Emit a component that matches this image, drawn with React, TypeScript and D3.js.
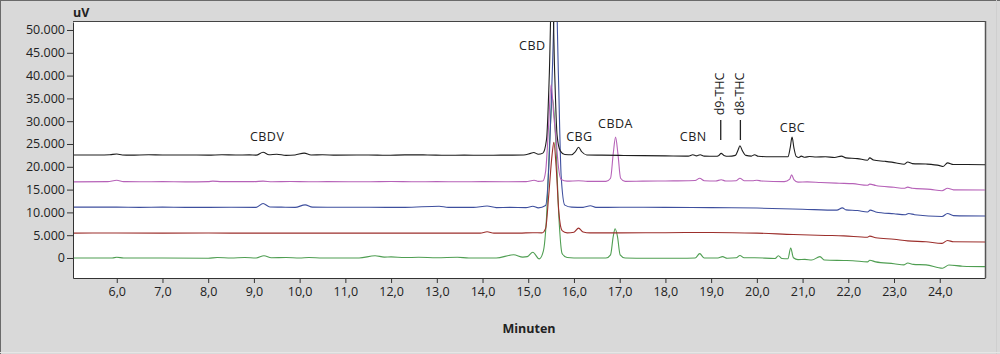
import { useEffect, useRef } from "react";
import { scaleLinear, line, curveMonotoneX, axisLeft, axisBottom, select, formatLocale } from "d3";

// retention time (min) / signal (uV)
const blackTrace: [number, number][] = [
  [5.05, 22600], [5.6, 22580], [5.85, 22650], [6.0, 22800], [6.12, 22600], [6.3, 22550], [6.7, 22650],
  [7.0, 22580], [7.5, 22600], [8.0, 22550], [8.3, 22650], [8.6, 22580], [8.9, 22620], [9.05, 22550],
  [9.2, 23200], [9.33, 22650], [9.5, 22750], [9.7, 22500], [9.9, 22600], [10.1, 23000], [10.25, 22600],
  [10.5, 22650], [10.8, 22550], [11.5, 22600], [11.9, 22520], [12.3, 22620], [12.8, 22600], [13.2, 22520],
  [13.6, 22560], [14.0, 22520], [14.4, 22560], [14.9, 22580], [15.05, 22950], [15.12, 23150], [15.22, 22750],
  [15.32, 23000], [15.4, 26000], [15.46, 40000], [15.52, 62000], [15.58, 40000], [15.63, 27000], [15.7, 23500],
  [15.8, 22700], [15.95, 22650], [16.03, 23300], [16.1, 24300], [16.17, 23300], [16.28, 22600], [16.6, 22550],
  [17.0, 22500], [17.5, 22450], [18.0, 22400], [18.5, 22350], [18.6, 22650], [18.68, 22400], [18.76, 22650],
  [18.85, 22350], [19.1, 22300], [19.17, 22500], [19.22, 22950], [19.28, 22500], [19.38, 22300], [19.53, 22500],
  [19.59, 23700], [19.63, 24600], [19.68, 23600], [19.76, 22500], [19.88, 22350], [19.95, 22650], [20.03, 22300],
  [20.3, 22200], [20.68, 22200], [20.73, 24200], [20.77, 26500], [20.81, 24200], [20.86, 22300], [20.92, 22050],
  [20.97, 22350], [21.05, 22100], [21.15, 22250], [21.3, 22150], [21.5, 22200], [21.7, 22050], [21.85, 22350],
  [21.95, 21950], [22.2, 21800], [22.42, 21450], [22.47, 21950], [22.55, 21500], [22.8, 21200], [23.05, 20850],
  [23.22, 20550], [23.3, 21050], [23.4, 20700], [23.7, 20600], [24.0, 20250], [24.07, 20050], [24.17, 20850],
  [24.3, 20500], [24.6, 20500], [25.0, 20450],
];

const magentaTrace: [number, number][] = [
  [5.05, 16700], [5.8, 16750], [6.0, 17050], [6.15, 16750], [6.5, 16720], [7.0, 16750], [7.5, 16700],
  [8.0, 16750], [8.1, 16850], [8.3, 16750], [9.0, 16750], [9.2, 16850], [9.4, 16720], [9.8, 16780],
  [10.2, 16720], [10.6, 16750], [11.5, 16720], [12.0, 16780], [12.5, 16720], [13.0, 16750], [13.5, 16720],
  [14.0, 16750], [14.5, 16720], [14.95, 16750], [15.13, 17050], [15.22, 16800], [15.32, 16900], [15.38, 19000],
  [15.44, 28000], [15.5, 38000], [15.56, 31000], [15.61, 26000], [15.66, 20000], [15.72, 17200], [15.85, 16850],
  [16.1, 16950], [16.3, 16800], [16.7, 16800], [16.8, 17500], [16.86, 23000], [16.91, 26500], [16.96, 23000],
  [17.02, 17500], [17.12, 16800], [17.5, 16850], [18.0, 16900], [18.5, 16950], [18.65, 17000], [18.75, 17500],
  [18.85, 16950], [19.1, 16900], [19.22, 17150], [19.32, 16900], [19.55, 16950], [19.63, 17500], [19.72, 16950],
  [19.9, 16950], [20.0, 17050], [20.1, 16900], [20.6, 16750], [20.72, 17300], [20.76, 18250], [20.81, 17200],
  [20.9, 16650], [21.1, 16700], [21.4, 16550], [21.8, 16400], [22.1, 16300], [22.42, 15950], [22.47, 16200],
  [22.6, 15900], [23.0, 15500], [23.22, 15300], [23.3, 15550], [23.4, 15300], [23.8, 15050], [24.05, 14750],
  [24.17, 15300], [24.3, 14950], [25.0, 14900],
];

const blueTrace: [number, number][] = [
  [5.05, 11150], [6.0, 11150], [6.5, 11100], [7.0, 11150], [7.5, 11100], [8.5, 11120], [9.05, 11100],
  [9.2, 11950], [9.35, 11200], [9.6, 11150], [9.9, 11100], [10.12, 11650], [10.28, 11150], [10.6, 11120],
  [11.5, 11120], [12.3, 11100], [13.05, 11350], [13.25, 11100], [13.8, 11100], [14.1, 11400], [14.3, 11050],
  [14.6, 11100], [14.95, 11050], [15.1, 11350], [15.22, 11000], [15.38, 11500], [15.46, 22000], [15.53, 42000],
  [15.6, 62000], [15.66, 40000], [15.72, 18000], [15.8, 11600], [15.95, 11150], [16.2, 11100], [16.36, 11450],
  [16.48, 11100], [17.0, 11120], [18.0, 11100], [19.0, 11050], [20.0, 10950], [21.0, 10700], [21.75, 10500],
  [21.87, 11000], [21.95, 10550], [22.2, 10400], [22.42, 10100], [22.48, 10500], [22.6, 10100], [23.0, 9700],
  [23.25, 9500], [23.32, 9750], [23.45, 9500], [24.05, 9100], [24.17, 9750], [24.3, 9300], [25.0, 9200],
];

const redTrace: [number, number][] = [
  [5.05, 5450], [6.0, 5480], [7.0, 5450], [8.0, 5470], [9.0, 5450], [10.0, 5450], [11.0, 5450],
  [12.0, 5460], [13.0, 5450], [13.95, 5450], [14.1, 5750], [14.25, 5450], [14.8, 5450], [15.1, 5550],
  [15.3, 5500], [15.38, 6500], [15.45, 14000], [15.52, 22500], [15.56, 25400], [15.61, 20000], [15.67, 10000],
  [15.74, 6000], [15.85, 5500], [16.0, 5650], [16.1, 6550], [16.2, 5700], [16.35, 5500], [17.0, 5500],
  [18.0, 5550], [19.0, 5600], [20.0, 5450], [20.8, 5150], [21.5, 4950], [21.9, 4850], [22.42, 4550],
  [22.47, 4800], [22.6, 4450], [23.0, 4100], [23.3, 3750], [23.7, 3550], [24.05, 3200], [24.17, 3850],
  [24.3, 3550], [25.0, 3500],
];

const greenTrace: [number, number][] = [
  [5.05, 0], [5.9, 0], [6.0, 150], [6.15, 0], [7.0, 0], [8.0, -50], [8.2, 100], [8.5, 0], [8.8, 100],
  [9.05, 0], [9.22, 500], [9.38, 50], [9.7, 100], [10.0, 0], [10.2, 100], [10.5, 0], [11.3, 0],
  [11.65, 500], [11.85, 200], [12.0, 250], [12.3, 100], [12.6, 150], [13.0, 50], [13.45, 150], [13.7, 0],
  [14.3, 0], [14.68, 700], [14.88, 200], [14.98, 300], [15.1, 1250], [15.24, -200], [15.33, 1500],
  [15.4, 9000], [15.47, 26000], [15.53, 35000], [15.6, 26000], [15.67, 9000], [15.74, 1000], [15.85, 100],
  [16.0, 0], [16.7, 0], [16.8, 700], [16.86, 4800], [16.9, 6400], [16.95, 4800], [17.01, 700], [17.12, 0],
  [17.6, -50], [18.3, -50], [18.65, 0], [18.75, 950], [18.85, 0], [19.15, 0], [19.25, 300], [19.35, -50],
  [19.55, 50], [19.63, 550], [19.72, 50], [19.95, 50], [20.4, -100], [20.47, 500], [20.55, -100],
  [20.68, -150], [20.74, 2200], [20.8, 50], [20.9, -350], [21.05, -300], [21.2, -450], [21.38, 300],
  [21.48, -450], [21.9, -550], [22.1, -600], [22.42, -850], [22.47, -500], [22.6, -850], [23.0, -1250],
  [23.22, -1500], [23.3, -1100], [23.42, -1400], [23.7, -1500], [24.06, -2250], [24.2, -1550], [24.5, -1800],
  [25.0, -1900],
];

// peak labels: name, time, signal at label centre
const peakNames = ["CBDV", "CBD", "CBG", "CBDA", "CBN", "CBC"];
const peakTimes = [9.29, 15.09, 16.12, 16.91, 18.61, 20.78];
const peakLabelY = [26750, 46700, 26750, 29390, 26540, 28510];

// vertical labels with marker line
const thcNames = ["d9-THC", "d8-THC"];
const thcTimes = [19.21, 19.64];

const yTicks = [0, 5000, 10000, 15000, 20000, 25000, 30000, 35000, 40000, 45000, 50000];
const xTicks = [6, 7, 8, 9, 10, 11, 12, 13, 14, 15, 16, 17, 18, 19, 20, 21, 22, 23, 24];

const traces = [
  { data: greenTrace, color: "#4f9e52" },
  { data: redTrace, color: "#9c2f2c" },
  { data: blueTrace, color: "#3e4f9e" },
  { data: magentaTrace, color: "#b662b8" },
  { data: blackTrace, color: "#1e1e1e" },
];

const de = formatLocale({ decimal: ",", thousands: ".", grouping: [3], currency: ["", " €"] });

export default function App() {
  const width = 1000,
    height = 354;
  const left = 73,
    top = 22,
    right = 985,
    bottom = 278;

  const x = scaleLinear().domain([5.043, 24.99]).range([left, right]);
  const y = scaleLinear().domain([-4386, 51754]).range([bottom, top]);

  const path = line<[number, number]>()
    .x((d) => x(d[0]))
    .y((d) => y(d[1]))
    .curve(curveMonotoneX);

  const xAxisRef = useRef<SVGGElement>(null);
  const yAxisRef = useRef<SVGGElement>(null);

  useEffect(() => {
    const yAxis = axisLeft(y)
      .tickValues(yTicks)
      .tickSize(6)
      .tickSizeOuter(0)
      .tickPadding(2)
      .tickFormat((d) => de.format(",d")(d as number));
    const gy = select(yAxisRef.current!).call(yAxis);
    gy.select(".domain").attr("stroke", "#333");
    gy.selectAll(".tick line").attr("stroke", "#333");
    gy.selectAll("text")
      .attr("font-family", "Open Sans")
      .attr("font-size", 12.5)
      .attr("fill", "#222");

    const xAxis = axisBottom(x)
      .tickValues(xTicks)
      .tickSize(5)
      .tickSizeOuter(0)
      .tickPadding(4)
      .tickFormat((d) => de.format(",.1f")(d as number));
    const gx = select(xAxisRef.current!).call(xAxis);
    gx.select(".domain").attr("stroke", "#333");
    gx.selectAll(".tick line").attr("stroke", "#333");
    gx.selectAll("text")
      .attr("font-family", "Open Sans")
      .attr("font-size", 12.5)
      .attr("fill", "#222");
  }, []);

  return (
    <svg
      width={width}
      height={height}
      style={{ position: "absolute", left: 0, top: 0 }}
      fontFamily="Open Sans"
    >
      <defs>
        <clipPath id="plotClip">
          <rect x={left} y={top} width={right - left} height={bottom - top} />
        </clipPath>
      </defs>
      <rect x={0} y={0} width={width} height={height} fill="#d9d9d9" />
      <line x1={0.5} y1={0} x2={0.5} y2={height} stroke="#6a6a6a" />
      <line x1={0} y1={0.5} x2={width} y2={0.5} stroke="#6a6a6a" />
      <line x1={996.5} y1={0} x2={996.5} y2={height} stroke="#cfcfcf" />
      <line x1={0} y1={352.5} x2={width} y2={352.5} stroke="#e6e6e6" />

      <rect x={left} y={top} width={right - left} height={bottom - top} fill="#ffffff" />
      <line x1={left} y1={top - 0.5} x2={right + 1} y2={top - 0.5} stroke="#444" />
      <line x1={right + 0.5} y1={top - 1} x2={right + 0.5} y2={bottom} stroke="#555" strokeWidth={1.5} />

      <g clipPath="url(#plotClip)">
        {traces.map((t, i) => (
          <path key={i} d={path(t.data) ?? ""} fill="none" stroke={t.color} strokeWidth={1.1} />
        ))}
      </g>

      <g ref={yAxisRef} transform={`translate(${left},0)`} />
      <g ref={xAxisRef} transform={`translate(0,${bottom})`} />

      {peakNames.map((n, i) => (
        <text
          key={n}
          x={x(peakTimes[i])}
          y={y(peakLabelY[i])}
          textAnchor="middle"
          dominantBaseline="central"
          fontSize={12.5}
          fill="#222"
          letterSpacing={0.5}
        >
          {n}
        </text>
      ))}

      {thcNames.map((n, i) => (
        <g key={n}>
          <text
            transform={`translate(${x(thcTimes[i]) - 1},${y(35970)}) rotate(-90)`}
            textAnchor="middle"
            dominantBaseline="central"
            fontSize={12.5}
            fill="#222"
          >
            {n}
          </text>
          <line
            x1={x(thcTimes[i])}
            x2={x(thcTimes[i])}
            y1={y(30260)}
            y2={y(25880)}
            stroke="#222"
            strokeWidth={1.3}
          />
        </g>
      ))}

      <text x={left} y={12} dominantBaseline="central" fontSize={12.5} fontWeight="bold" fill="#222">
        uV
      </text>
      <text x={529} y={328} textAnchor="middle" dominantBaseline="central" fontSize={12.5} fontWeight="bold" fill="#222">
        Minuten
      </text>
    </svg>
  );
}
